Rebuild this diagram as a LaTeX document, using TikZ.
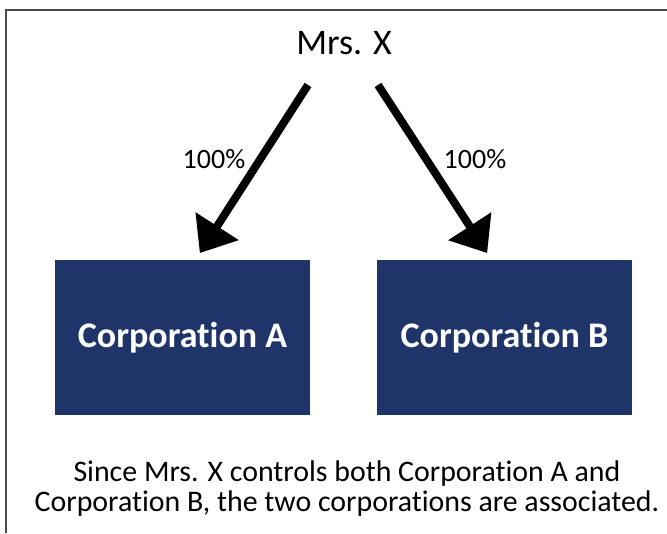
\documentclass[tikz,border=0pt]{standalone}
\usepackage{fontspec}
\setmainfont{Carlito}[Ligatures={NoCommon,NoContextual}]
\usetikzlibrary{arrows.meta}
\definecolor{corpblue}{RGB}{31,53,106}

\begin{document}
\begin{tikzpicture}[x=0.75pt, y=-0.75pt]
        \tikzstyle{corp} = [rectangle, fill=corpblue, text=white, minimum width=191.25pt, minimum height=116.25pt, inner sep=0pt, font=\fontsize{27}{32}\selectfont\bfseries]
        \tikzstyle{owns} = [line width=6pt, -{Triangle[length=24pt, width=37pt]}]
        \tikzstyle{share} = [inner sep=0pt, font=\fontsize{21}{25}\selectfont]
        \useasboundingbox (0,0) rectangle (667,533);
        \draw [line width=1.5pt, black!70] (6,533) -- (6,9.5) -- (667,9.5);
        \node[inner sep=0pt, font=\fontsize{27}{32}\selectfont](MrsX) at (344,43) {Mrs. X};
        \node[corp](CorpA) at (182.5,337.5) {Corporation A};
        \node[corp](CorpB) at (504.5,337.5) {Corporation B};
        \node[share](ShareA) at (214,159) {100\%};
        \node[share](ShareB) at (475,159) {100\%};
        \node[inner sep=0pt, anchor=north, align=center, font=\fontsize{22.4}{23}\selectfont](Note) at (347,460) {Since Mrs. X controls both Corporation A and\\Corporation B, the two corporations are associated.};
        \draw [owns] ([xshift=-27pt, yshift=-22.5pt]MrsX.south) -- ([xshift=13pt, yshift=5pt]CorpA.north);
        \draw [owns] ([xshift=25.5pt, yshift=-22.5pt]MrsX.south) -- ([xshift=-13pt, yshift=5pt]CorpB.north);

    \end{tikzpicture}
\end{document}
